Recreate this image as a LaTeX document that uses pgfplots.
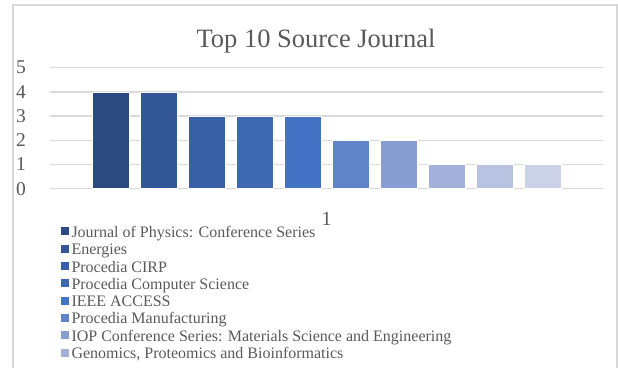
\documentclass[border=0pt]{standalone}
\usepackage{pgfplots}
\pgfplotsset{compat=1.18}
\usepackage{fontspec}
\setmainfont{Liberation Serif}
\definecolor{c1}{RGB}{44,74,128}
\definecolor{c2}{RGB}{50,86,150}
\definecolor{c3}{RGB}{57,96,166}
\definecolor{c4}{RGB}{62,105,178}
\definecolor{c5}{RGB}{68,114,196}
\definecolor{c6}{RGB}{97,131,200}
\definecolor{c7}{RGB}{135,158,211}
\definecolor{c8}{RGB}{162,176,218}
\definecolor{c9}{RGB}{184,195,226}
\definecolor{c10}{RGB}{203,210,232}
\definecolor{txt}{RGB}{89,89,89}
\definecolor{gridc}{RGB}{217,217,217}
\pgfplotsset{bb/.style={fill=#1, draw=white, line width=0.5pt,
  legend image code/.code={\fill[#1] (0pt,-1pt) rectangle (7pt,6pt);}}}
\begin{document}
\begin{tikzpicture}[x=1pt,y=1pt]
\useasboundingbox (0,0) rectangle (618,-367);
\draw[gridc, line width=2pt] (13,-380) -- (13,-5) -- (617,-5) -- (617,-380);
\node[anchor=base, font=\fontsize{26.5}{30}\selectfont, text=txt, inner sep=0pt] at (316,-47) {Top 10 Source Journal};
\begin{axis}[
  at={(50pt,-188.7pt)}, anchor=south west,
  scale only axis, width=553pt, height=121pt,
  xmin=0, xmax=2, ymin=0, ymax=5,
  ybar=11pt, bar width=37pt,
  axis line style={draw=none},
  major tick length=0pt,
  ytick={0,1,2,3,4,5},
  xtick={1},
  ymajorgrids, grid style={gridc, line width=1.5pt},
  /pgf/number format/assume math mode=true,
  yticklabel style={anchor=east, inner sep=0pt, xshift=-24pt, text=txt, font=\fontsize{19.5}{22}\selectfont},
  xticklabel style={anchor=north, inner sep=0pt, yshift=-23pt, text=txt, font=\fontsize{20}{24}\selectfont},
  legend style={at={(axis description cs:0.0199,-0.308)}, anchor=north west,
    draw=none, fill=none, inner sep=0pt, outer sep=0pt,
    font=\fontsize{16}{17}\selectfont, text=txt,
    nodes={inner sep=1pt, text height=10.5pt, text depth=3pt},
    row sep=1.8pt,
    /tikz/every odd column/.style={column sep=2pt}},
  legend cell align=left,
]
\addplot[bb=c1] coordinates {(1,4)};
\addplot[bb=c2] coordinates {(1,4)};
\addplot[bb=c3] coordinates {(1,3)};
\addplot[bb=c4] coordinates {(1,3)};
\addplot[bb=c5] coordinates {(1,3)};
\addplot[bb=c6] coordinates {(1,2)};
\addplot[bb=c7] coordinates {(1,2)};
\addplot[bb=c8] coordinates {(1,1)};
\addplot[bb=c9] coordinates {(1,1)};
\addplot[bb=c10] coordinates {(1,1)};
\legend{Journal of Physics: Conference Series, Energies, Procedia CIRP, Procedia Computer Science, IEEE ACCESS, Procedia Manufacturing, IOP Conference Series: Materials Science and Engineering, {Genomics, Proteomics and Bioinformatics}}
\end{axis}
\end{tikzpicture}
\end{document}
